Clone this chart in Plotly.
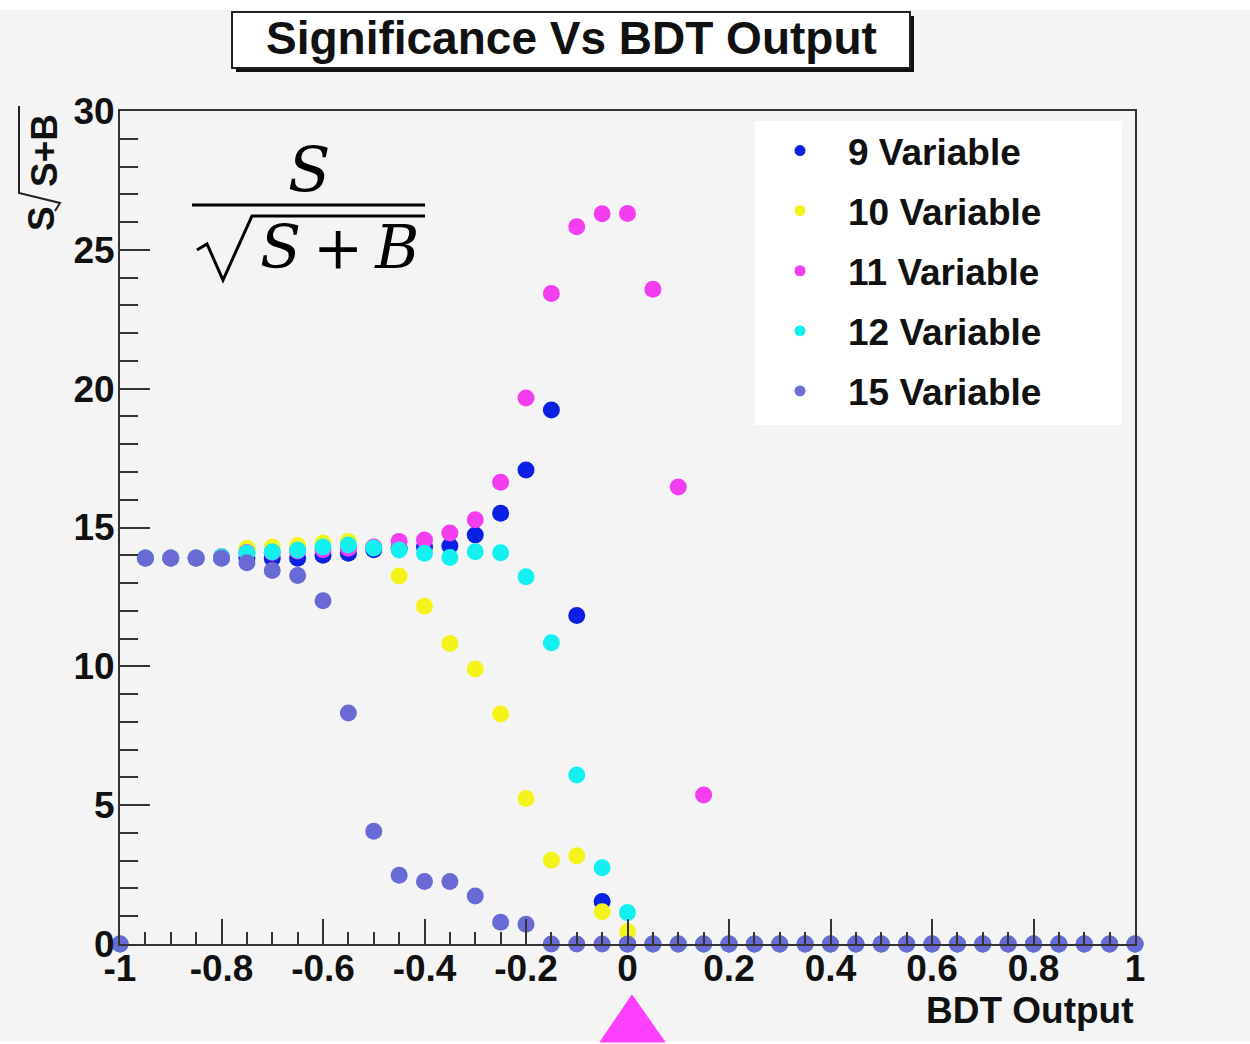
import plotly.graph_objects as go

# ---------------- data ----------------
bdt_output = [-1.0, -0.95, -0.9, -0.85, -0.8, -0.75, -0.7, -0.65, -0.6, -0.55,
              -0.5, -0.45, -0.4, -0.35, -0.3, -0.25, -0.2, -0.15, -0.1, -0.05,
              0.0, 0.05, 0.1, 0.15, 0.2, 0.25, 0.3, 0.35, 0.4, 0.45,
              0.5, 0.55, 0.6, 0.65, 0.7, 0.75, 0.8, 0.85, 0.9, 0.95, 1.0]

sig_9var = [0, 13.9, 13.9, 13.9, 13.9, 13.9, 13.89, 13.89, 14.0, 14.07,
            14.2, 14.25, 14.3, 14.33, 14.73, 15.51, 17.07, 19.23, 11.83, 1.53,
            0, 0, 0, 0, 0, 0, 0, 0, 0, 0,
            0, 0, 0, 0, 0, 0, 0, 0, 0, 0, 0]
sig_10var = [0, 13.9, 13.9, 13.9, 13.95, 14.25, 14.3, 14.35, 14.44, 14.5,
             14.3, 13.25, 12.16, 10.82, 9.9, 8.28, 5.24, 3.02, 3.18, 1.16,
             0.44, 0, 0, 0, 0, 0, 0, 0, 0, 0,
             0, 0, 0, 0, 0, 0, 0, 0, 0, 0, 0]
sig_11var = [0, 13.9, 13.9, 13.9, 13.95, 14.1, 14.1, 14.15, 14.2, 14.25,
             14.3, 14.5, 14.55, 14.8, 15.28, 16.63, 19.66, 23.43, 25.83, 26.3,
             26.31, 23.58, 16.46, 5.37, 0, 0, 0, 0, 0, 0,
             0, 0, 0, 0, 0, 0, 0, 0, 0, 0, 0]
sig_12var = [0, 13.9, 13.9, 13.9, 13.95, 14.08, 14.13, 14.19, 14.3, 14.37,
             14.26, 14.19, 14.07, 13.92, 14.13, 14.09, 13.23, 10.85, 6.09, 2.75,
             1.13, 0, 0, 0, 0, 0, 0, 0, 0, 0,
             0, 0, 0, 0, 0, 0, 0, 0, 0, 0, 0]
sig_15var = [0, 13.89, 13.89, 13.89, 13.89, 13.73, 13.45, 13.27, 12.36, 8.32,
             4.06, 2.48, 2.25, 2.25, 1.73, 0.78, 0.71, 0, 0, 0,
             0, 0, 0, 0, 0, 0, 0, 0, 0, 0,
             0, 0, 0, 0, 0, 0, 0, 0, 0, 0, 0]

series_names = ["9 Variable", "10 Variable", "11 Variable", "12 Variable", "15 Variable"]
series_values = [sig_9var, sig_10var, sig_11var, sig_12var, sig_15var]
series_colors = ["#0a20e2", "#f4f41c", "#f23ef0", "#14f0f0", "#6a6ad4"]

x_tick_vals = [-1, -0.8, -0.6, -0.4, -0.2, 0, 0.2, 0.4, 0.6, 0.8, 1]
x_tick_text = ["-1", "-0.8", "-0.6", "-0.4", "-0.2", "0", "0.2", "0.4", "0.6", "0.8", "1"]
y_tick_vals = [0, 5, 10, 15, 20, 25, 30]
y_tick_text = ["0", "5", "10", "15", "20", "25", "30"]

# ---------------- layout helpers (pixel -> paper) ----------------
W, H = 1250, 1044
L, R, T, B = 120, 115, 111, 100
PW, PH = W - L - R, H - T - B


def px(x):
    return (x - L) / PW


def py(y):
    return (H - B - y) / PH


BG = "#f4f4f4"
FONT = "Liberation Sans"

fig = go.Figure()

for name, vals, col in zip(series_names, series_values, series_colors):
    fig.add_trace(go.Scatter(
        x=bdt_output, y=vals, mode="markers", name=name,
        marker=dict(color=col, size=17, line=dict(width=0)),
        cliponaxis=False, showlegend=False, hoverinfo="x+y+name"))

# legend-only entries (smaller markers, like the original)
for i, (name, col) in enumerate(zip(series_names, series_colors)):
    fig.add_trace(go.Scatter(
        x=[None], y=[None], mode="markers", name=name, legendgroup=f"g{i}",
        marker=dict(color=col, size=11), showlegend=True))

shapes = []
# white strips top/bottom of the page
shapes.append(dict(type="rect", xref="paper", yref="paper", layer="below",
                   x0=px(0), x1=px(W), y0=py(0), y1=py(10),
                   fillcolor="white", line=dict(width=0)))
shapes.append(dict(type="rect", xref="paper", yref="paper", layer="below",
                   x0=px(0), x1=px(W), y0=py(1041), y1=py(H),
                   fillcolor="white", line=dict(width=0)))
# title box shadow + box
shapes.append(dict(type="rect", xref="paper", yref="paper", layer="above",
                   x0=px(236), x1=px(914), y0=py(16), y1=py(72),
                   fillcolor="#111", line=dict(width=0)))
shapes.append(dict(type="rect", xref="paper", yref="paper", layer="above",
                   x0=px(232), x1=px(910), y0=py(12), y1=py(68),
                   fillcolor="white", line=dict(color="#222", width=2)))
# legend box
shapes.append(dict(type="rect", xref="paper", yref="paper", layer="above",
                   x0=px(755), x1=px(1122), y0=py(121), y1=py(425),
                   fillcolor="white", line=dict(width=0)))
# formula: fraction bar and radical
shapes.append(dict(type="line", xref="paper", yref="paper", layer="above",
                   x0=px(192), x1=px(425), y0=py(205), y1=py(205),
                   line=dict(color="black", width=3)))


def path(points):
    return "M " + " L ".join(f"{px(a):.5f},{py(b):.5f}" for a, b in points)


shapes.append(dict(type="path", xref="paper", yref="paper", layer="above",
                   path=path([(197, 250), (207, 244), (223, 280), (252, 216), (425, 216)]),
                   line=dict(color="black", width=3)))
# y-axis title radical
shapes.append(dict(type="path", xref="paper", yref="paper", layer="above",
                   path=path([(55, 211), (60, 203), (19, 193), (19, 106)]),
                   line=dict(color="#222", width=2)))
# pink triangle marker under x=0
shapes.append(dict(type="path", xref="paper", yref="paper", layer="above",
                   path=path([(632, 995), (600, 1042), (665, 1042)]) + " Z",
                   fillcolor="#ff40ff", line=dict(color="#ff40ff", width=1)))

annotations = [
    dict(text="Significance Vs BDT Output", xref="paper", yref="paper",
         x=px(571), y=py(38), xanchor="center", yanchor="middle", showarrow=False,
         font=dict(family=FONT, size=46, color="#111", weight="bold")),
    dict(text="BDT Output", xref="paper", yref="paper",
         x=px(1136), y=py(1010), xanchor="right", yanchor="middle", showarrow=False,
         font=dict(family=FONT, size=37, color="#111", weight="bold")),
    dict(text="S", xref="paper", yref="paper", textangle=-90,
         x=px(42), y=py(219), xanchor="center", yanchor="middle", showarrow=False,
         font=dict(family=FONT, size=37, color="#111", weight="bold")),
    dict(text="S+B", xref="paper", yref="paper", textangle=-90,
         x=px(44), y=py(151), xanchor="center", yanchor="middle", showarrow=False,
         font=dict(family=FONT, size=37, color="#111", weight="bold")),
    dict(text="<i>S</i>", xref="paper", yref="paper",
         x=px(309), y=py(170), xanchor="center", yanchor="middle", showarrow=False,
         font=dict(family="DejaVu Serif", size=62, color="black", weight="normal")),
    dict(text="<i>S</i>\u2009+\u2009<i>B</i>", xref="paper", yref="paper",
         x=px(339), y=py(247), xanchor="center", yanchor="middle", showarrow=False,
         font=dict(family="DejaVu Serif", size=60, color="black", weight="normal")),
]

axis_common = dict(showline=True, linecolor="#333", linewidth=2, mirror=True,
                   showgrid=False, zeroline=False, ticks="inside",
                   tickcolor="#333", tickwidth=2,
                   tickfont=dict(family=FONT, size=37, color="#111", weight="bold"))

fig.update_layout(
    width=W, height=H,
    margin=dict(l=L, r=R, t=T, b=B, pad=0),
    paper_bgcolor=BG, plot_bgcolor=BG,
    xaxis=dict(range=[-1, 1], tickmode="array", tickvals=x_tick_vals, ticktext=x_tick_text,
               ticklen=25, ticklabelstandoff=-9,
               minor=dict(ticks="inside", ticklen=12, tickmode="linear", tick0=-1, dtick=0.05,
                          tickcolor="#333", tickwidth=2, showgrid=False),
               **axis_common),
    yaxis=dict(range=[0, 30], tickmode="array", tickvals=y_tick_vals, ticktext=y_tick_text,
               ticklen=30, ticklabelstandoff=-4,
               minor=dict(ticks="inside", ticklen=18, tickmode="linear", tick0=0, dtick=1,
                          tickcolor="#333", tickwidth=2, showgrid=False),
               **axis_common),
    legend=dict(x=px(752), y=py(120), xanchor="left", yanchor="top",
                bgcolor="rgba(0,0,0,0)", borderwidth=0, traceorder="grouped",
                tracegroupgap=9, itemwidth=86,
                font=dict(family=FONT, size=37, color="#111", weight="bold")),
    shapes=shapes, annotations=annotations,
    showlegend=True,
)

fig.write_html("out.html")
